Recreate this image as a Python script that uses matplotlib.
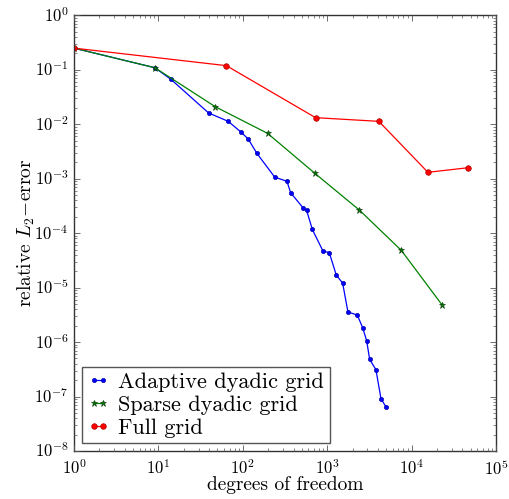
import matplotlib
matplotlib.use("Agg")
import matplotlib.pyplot as plt

# Adaptive dyadic refinement: degrees of freedom and relative L2 error
adaptive_dof = [1, 9.1, 14.1, 39.4, 67.3, 95.2, 116, 147, 239, 334, 369, 517, 571,
                667, 892, 1060, 1282, 1525, 1763, 2275, 2632, 2937, 3186, 3784,
                4340, 5010]
adaptive_err = [0.25, 0.109, 0.0667, 0.0161, 0.0113, 0.00719, 0.00536, 0.00292,
                0.00107, 8.95e-4, 5.53e-4, 2.93e-4, 2.62e-4, 1.17e-4, 4.70e-5,
                4.38e-5, 1.70e-5, 1.21e-5, 3.56e-6, 3.14e-6, 1.84e-6, 1.06e-6,
                4.82e-7, 3.11e-7, 9.12e-8, 6.34e-8]

# Sparse dyadic grid
sparse_dof = [1, 9.1, 47.2, 197, 717, 2404, 7550, 22900]
sparse_err = [0.25, 0.109, 0.021, 0.0068, 0.00125, 2.66e-4, 4.84e-5, 4.85e-6]

# Full tensor grid
full_dof = [1, 64, 729, 4096, 15625, 46656]
full_err = [0.25, 0.119, 0.0132, 0.0113, 0.00131, 0.00159]

labels = ["Adaptive dyadic grid", "Sparse dyadic grid", "Full grid"]
x_limits = (1, 1e5)
y_limits = (1e-8, 1)

plt.style.use("classic")
plt.rcParams.update({
    "font.family": "serif",
    "font.serif": ["cmr10"],
    "mathtext.fontset": "cm",
    "axes.formatter.use_mathtext": True,
    "axes.unicode_minus": False,
    "figure.facecolor": "white",
    "savefig.facecolor": "white",
})

fig = plt.figure(figsize=(5.10, 4.99), dpi=100)
ax = fig.add_axes([0.145, 0.0962, 0.8275, 0.8731])

ax.loglog(adaptive_dof, adaptive_err, "b-", marker="o", markersize=3.0,
          markeredgecolor="#0000aa", markeredgewidth=0.5, linewidth=0.9,
          label=labels[0])
ax.loglog(sparse_dof, sparse_err, "g-", marker="*", markersize=5.0,
          markeredgecolor="#114411", markeredgewidth=0.5, linewidth=0.9,
          label=labels[1])
ax.loglog(full_dof, full_err, "r-", marker="o", markersize=4.0,
          markeredgecolor="#aa0000", markeredgewidth=0.5, linewidth=0.9,
          label=labels[2])

ax.set_xlim(*x_limits)
ax.set_ylim(*y_limits)
ax.set_xlabel("degrees of freedom", fontsize=14, labelpad=-1)
ax.set_ylabel(r"relative $L_2$$\mathrm{-}$error", fontsize=14, labelpad=-2)
ax.tick_params(axis="both", which="major", labelsize=12, length=4, width=0.6,
               color="#555555")
ax.tick_params(axis="x", which="major", pad=5)
ax.tick_params(axis="y", which="major", pad=4)
ax.tick_params(axis="both", which="minor", length=2, width=0.5, color="#555555")
for side in ax.spines.values():
    side.set_linewidth(1.0)
    side.set_color("#333333")

leg = ax.legend(loc="lower left", fontsize=16, numpoints=2, handlelength=1.0,
                handletextpad=0.4, labelspacing=0.15, borderpad=0.25,
                borderaxespad=0.35, fancybox=False)
leg.get_frame().set_edgecolor("#555555")
leg.get_frame().set_linewidth(1.0)

fig.savefig("out.png", dpi=100)
